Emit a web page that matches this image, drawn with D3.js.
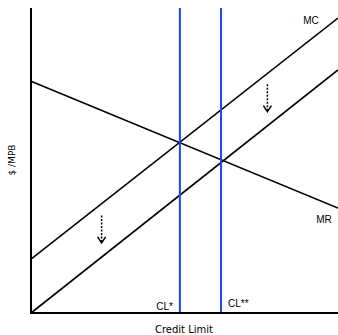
<!DOCTYPE html>
<html>
<head>
<meta charset="utf-8">
<script src="https://cdn.jsdelivr.net/npm/d3@7"></script>
<style>
  body { margin: 0; background: #fff; }
  svg { display: block; }
</style>
</head>
<body>
<svg id="canvas" width="338" height="335"></svg>
<script>
// curve end points in chart units (x: 0..100, y: 0..100)
const curveNames = ['MR', 'MC', 'MC2']
const curveX = [[0, 100], [0, 100], [0, 100]]
const curveY = [[76, 34.4], [17.7, 96.7], [0, 79.7]]

const limitNames = ['CL*', 'CL**']
const limitX = [48.5, 61.9]

// shift arrows: x, y start, y end
const arrowX = [77, 23]
const arrowY0 = [75, 32]
const arrowY1 = [66, 23]

let canvas = d3.select('#canvas')

let xScale = d3.scaleLinear().domain([0, 100]).range([31, 338])
let yScale = d3.scaleLinear().domain([0, 100]).range([313, 8])

// curves
curveNames.forEach((name, i) => {
    canvas.append('line')
          .attr('x1', xScale(curveX[i][0]))
          .attr('y1', yScale(curveY[i][0]))
          .attr('x2', xScale(curveX[i][1]))
          .attr('y2', yScale(curveY[i][1]))
          .attr('stroke', '#000')
          .attr('stroke-width', 1.6)
})

// credit limit lines
limitX.forEach((x) => {
    canvas.append('line')
          .attr('x1', xScale(x))
          .attr('x2', xScale(x))
          .attr('y1', yScale(100))
          .attr('y2', yScale(0))
          .attr('stroke', '#1f45f5')
          .attr('stroke-width', 2)
})

// arrows
arrowX.forEach((x, i) => {
    let px = xScale(x)
    let y0 = yScale(arrowY0[i])
    let y1 = yScale(arrowY1[i])
    canvas.append('line')
          .attr('x1', px).attr('x2', px)
          .attr('y1', y0).attr('y2', y1 - 1)
          .attr('stroke', '#000')
          .attr('stroke-width', 1.5)
          .attr('stroke-dasharray', '2,1.5')
    canvas.append('path')
          .attr('d', `M${px - 4},${y1 - 6} L${px},${y1} L${px + 4},${y1 - 6}`)
          .attr('fill', 'none')
          .attr('stroke', '#000')
          .attr('stroke-width', 1.5)
})

// axes
canvas.append('line')
      .attr('x1', xScale(0)).attr('x2', xScale(0))
      .attr('y1', yScale(100)).attr('y2', yScale(0) + 1)
      .attr('stroke', '#000').attr('stroke-width', 2)
canvas.append('line')
      .attr('x1', xScale(0) - 1).attr('x2', xScale(100))
      .attr('y1', yScale(0)).attr('y2', yScale(0))
      .attr('stroke', '#000').attr('stroke-width', 2)

// labels
let labelFont = 'Liberation Sans, Arial, sans-serif'
canvas.append('text').text('MC')
      .attr('x', 311).attr('y', 24)
      .attr('text-anchor', 'middle')
      .style('font-family', labelFont).style('font-size', '10px')
canvas.append('text').text('MR')
      .attr('x', 324).attr('y', 223)
      .attr('text-anchor', 'middle')
      .style('font-family', labelFont).style('font-size', '10px')
canvas.append('text').text(limitNames[0])
      .attr('x', xScale(limitX[0]) - 7).attr('y', 310)
      .attr('text-anchor', 'end')
      .style('font-family', labelFont).style('font-size', '10px')
canvas.append('text').text(limitNames[1])
      .attr('x', xScale(limitX[1]) + 7).attr('y', 307)
      .style('font-family', labelFont).style('font-size', '10px')

canvas.append('text').text('Credit Limit')
      .attr('x', 184).attr('y', 333)
      .attr('text-anchor', 'middle')
      .style('font-family', 'DejaVu Sans, sans-serif').style('font-size', '10px')
canvas.append('text').text('$ /MPB')
      .attr('transform', 'translate(15,160) rotate(-90)')
      .attr('text-anchor', 'middle')
      .style('font-family', 'DejaVu Sans, sans-serif').style('font-size', '9px')
</script>
</body>
</html>
